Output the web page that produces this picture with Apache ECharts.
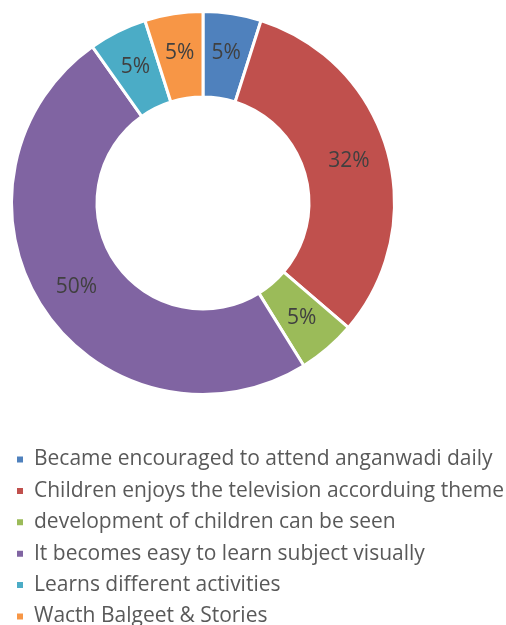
<!DOCTYPE html>
<html>
<head>
<meta charset="utf-8">
<style>
  html, body { margin: 0; padding: 0; background: #ffffff; }
  #chart { width: 506px; height: 625px; }
</style>
<script src="https://cdn.jsdelivr.net/npm/echarts@6/dist/echarts.min.js"></script>
</head>
<body>
<div id="chart"></div>
<script>
// Responses about the anganwadi television sessions (percent)
const categories = [
  'Became encouraged to attend anganwadi daily',
  'Children enjoys the television accorduing theme',
  'development of children can be seen',
  'It becomes easy to learn subject visually',
  'Learns different activities',
  'Wacth Balgeet & Stories'
];
const shares = [5, 32, 5, 50, 5, 5];
const palette = ['#4F81BD', '#C0504D', '#9BBB59', '#8064A2', '#4BACC6', '#F79646'];

const FONT = '"Open Sans", sans-serif';
const chart = echarts.init(document.getElementById('chart'), null, { renderer: 'canvas' });

chart.setOption({
  animation: false,
  backgroundColor: '#ffffff',
  color: palette,
  legend: {
    orient: 'vertical',
    left: 10,
    top: 444,
    height: 260,
    icon: 'rect',
    itemWidth: 8,
    itemHeight: 8,
    itemGap: 10.4,
    textStyle: {
      color: '#595959', fontFamily: FONT, fontSize: 21, lineHeight: 21,
      padding: [0, 0, 0, 5]
    },
    data: categories
  },
  series: [{
    type: 'pie',
    center: [203, 203],
    radius: [106, 191.5],
    startAngle: 90,
    clockwise: true,
    avoidLabelOverlap: false,
    itemStyle: { borderColor: '#ffffff', borderWidth: 3 },
    label: {
      show: true,
      position: 'inside',
      formatter: p => p.value + '%',
      color: '#404040',
      fontFamily: FONT,
      fontSize: 21
    },
    labelLine: { show: false },
    emphasis: { disabled: true },
    data: categories.map((name, i) => ({ name, value: shares[i] }))
  }]
});
</script>
</body>
</html>
